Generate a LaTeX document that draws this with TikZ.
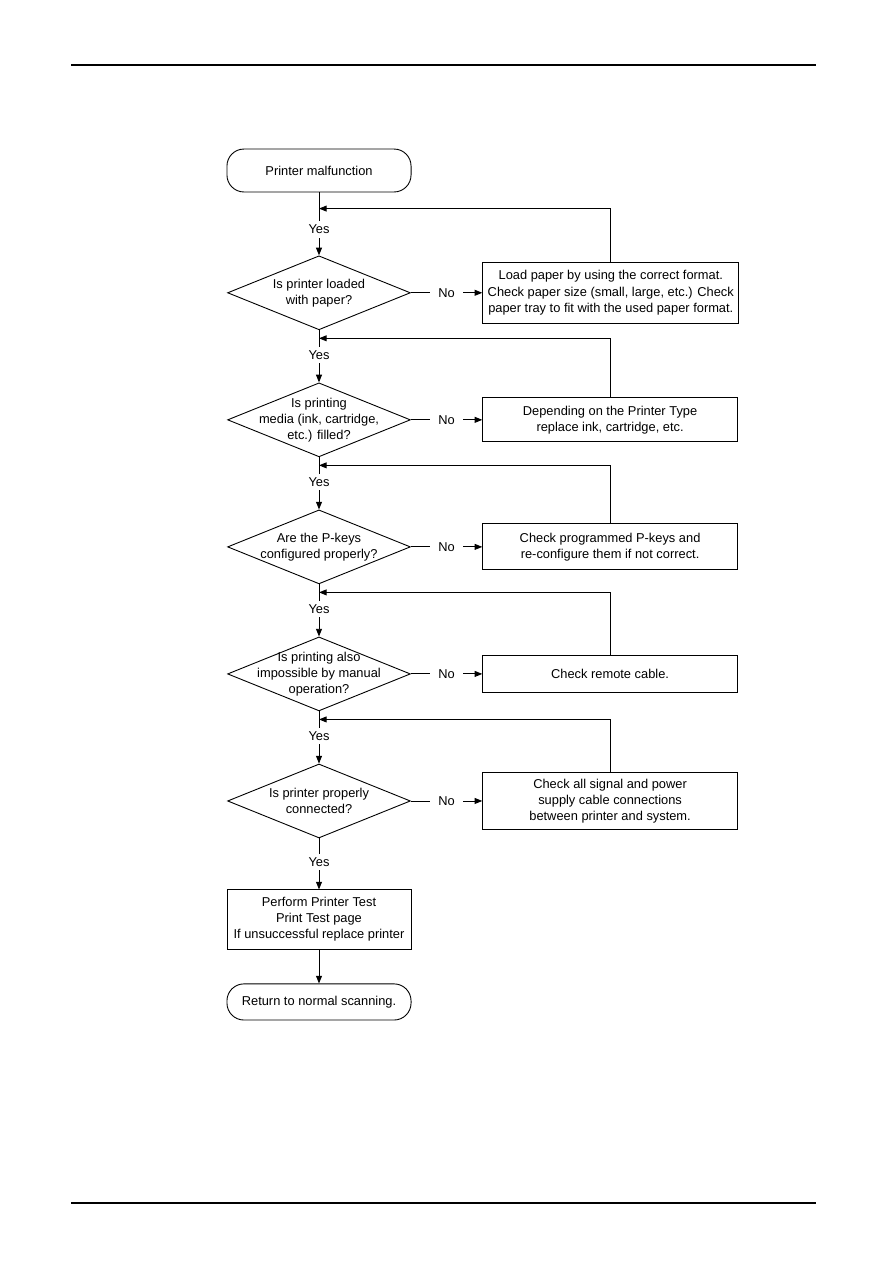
\documentclass[tikz,border=0pt]{standalone}
\usepackage{fontspec}
\setmainfont{Liberation Sans}
\usetikzlibrary{arrows.meta, positioning, shapes.geometric}

\begin{document}
\begin{tikzpicture}[
x=0.2352mm, y=-0.2352mm,
line width=0.6pt,
font=\fontsize{8.6}{10.8}\selectfont,
node distance=12.27mm and 16.8mm,
terminal/.style={draw, rounded corners=4mm, align=center, minimum width=43.3mm, minimum height=10.1mm},
box/.style={draw, align=center, minimum width=59.9mm, inner ysep=3pt},
decision/.style={diamond, draw, minimum width=43mm, minimum height=17.4mm, inner sep=0pt},
qtext/.style={align=center, inner sep=0pt},
lbl/.style={fill=white, inner xsep=5.5pt, inner ysep=2.5pt},
arrow/.style={-{Triangle[length=1.8mm, width=1.4mm]}}
]

% page rules
\useasboundingbox (0,0) rectangle (893,1263);
\draw[line width=0.8pt] (71,65) -- (816,65);
\draw[line width=0.8pt] (71,1203) -- (816,1203);

% main column
\node[terminal] (start) at (319,170.5) {Printer malfunction};
\node[decision, below=14.8mm of start, label={[qtext]center:{Is printer loaded\\with paper?}}] (paper) {};
\node[decision, below=of paper, label={[qtext]center:{Is printing\\media (ink, cartridge,\\etc.) filled?}}] (media) {};
\node[decision, below=of media, label={[qtext]center:{Are the P-keys\\configured properly?}}] (pkeys) {};
\node[decision, below=of pkeys, label={[qtext]center:{Is printing also\\impossible by manual\\operation?}}] (manual) {};
\node[decision, below=of manual, label={[qtext]center:{Is printer properly\\connected?}}] (conn) {};
\node[box, minimum width=43.3mm, minimum height=13.9mm, below=12.0mm of conn] (test) {Perform Printer Test\\Print Test page\\If unsuccessful replace printer};
\node[terminal, minimum height=8.5mm, below=8mm of test] (done) {Return to normal scanning.};

% actions
\node[box, minimum height=14.3mm, right=of paper] (loadpaper) {Load paper by using the correct format.\\Check paper size (small, large, etc.) Check\\paper tray to fit with the used paper format.};
\node[box, minimum height=10.3mm, right=of media] (refill) {Depending on the Printer Type\\replace ink, cartridge, etc.};
\node[box, minimum height=10.8mm, right=of pkeys] (reconf) {Check programmed P-keys and\\re-configure them if not correct.};
\node[box, minimum height=8.7mm, right=of manual] (remote) {Check remote cable.};
\node[box, minimum height=13.6mm, right=of conn] (cables) {Check all signal and power\\supply cable connections\\between printer and system.};

% return points
\coordinate[below=3.8mm of start] (j1);
\coordinate[below=1.9mm of paper] (j2);
\coordinate[below=1.9mm of media] (j3);
\coordinate[below=1.9mm of pkeys] (j4);
\coordinate[below=1.9mm of manual] (j5);

\draw[arrow] (start) -- node[lbl, pos=0.59] {Yes} (paper);
\draw[arrow] (paper) -- node[lbl, pos=0.47] {Yes} (media);
\draw[arrow] (media) -- node[lbl, pos=0.47] {Yes} (pkeys);
\draw[arrow] (pkeys) -- node[lbl, pos=0.47] {Yes} (manual);
\draw[arrow] (manual) -- node[lbl, pos=0.47] {Yes} (conn);
\draw[arrow] (conn) -- node[lbl, pos=0.46] {Yes} (test);
\draw[arrow] (test) -- (done);

\draw[arrow] (paper) -- node[lbl] {No} (loadpaper);
\draw[arrow] (media) -- node[lbl] {No} (refill);
\draw[arrow] (pkeys) -- node[lbl] {No} (reconf);
\draw[arrow] (manual) -- node[lbl] {No} (remote);
\draw[arrow] (conn) -- node[lbl] {No} (cables);

\draw[arrow] (loadpaper) |- (j1);
\draw[arrow] (refill) |- (j2);
\draw[arrow] (reconf) |- (j3);
\draw[arrow] (remote) |- (j4);
\draw[arrow] (cables) |- (j5);

\end{tikzpicture}
\end{document}
